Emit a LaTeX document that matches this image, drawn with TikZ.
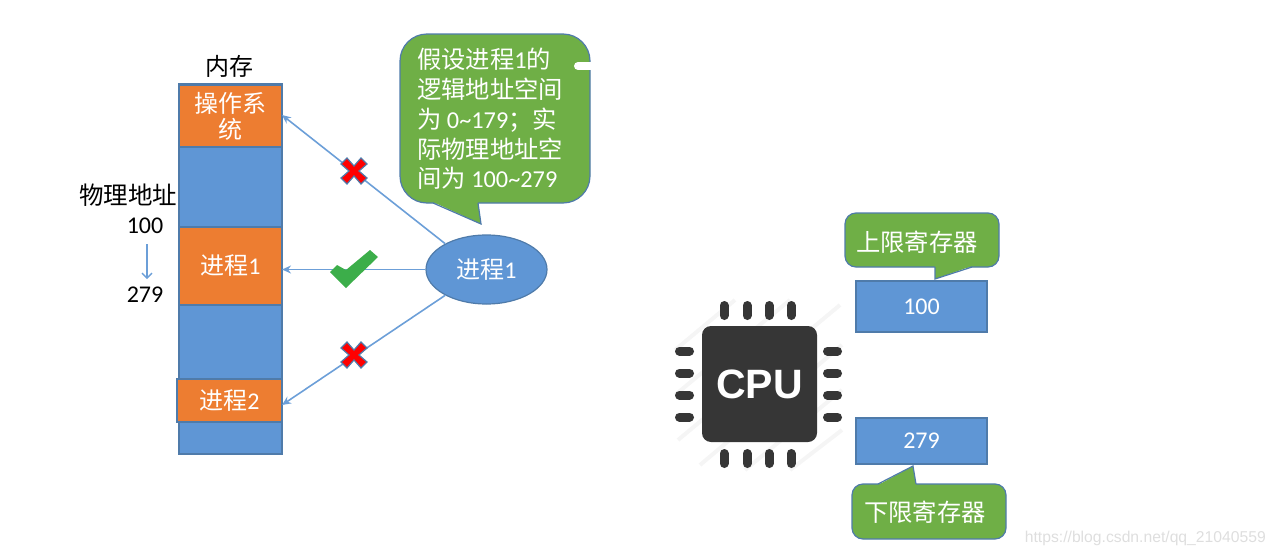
\documentclass[tikz,border=0pt]{standalone}
\usepackage{fontspec}
\setmainfont{Carlito}
\newfontfamily\cjk{Noto Sans CJK SC}
\newfontfamily\libsans{Liberation Sans}
\usetikzlibrary{shapes.geometric,arrows.meta}
\definecolor{blockblue}{HTML}{5F96D5}
\definecolor{edgeblue}{HTML}{4F7BAA}
\definecolor{arrowblue}{HTML}{6C9FD8}
\definecolor{blockorange}{HTML}{ED7D31}
\definecolor{calloutgreen}{HTML}{6FAF46}
\definecolor{checkgreen}{HTML}{3CAE4A}
\definecolor{chipgrey}{HTML}{363636}
\tikzset{
  x=1pt,y=-1pt,
  blockstyle/.style={draw=edgeblue,line width=1.3pt,inner sep=0pt,text=white,align=center,font=\fontsize{24}{27}\selectfont},
  blueblock/.style={blockstyle,fill=blockblue},
  orangeblock/.style={blockstyle,fill=blockorange},
  calloutshape/.style={draw=edgeblue,line width=1.2pt,fill=calloutgreen},
  tailfill/.style={fill=calloutgreen},
  tailedge/.style={draw=edgeblue,line width=1.2pt},
  callouttext/.style={inner sep=0pt,text=white,font=\fontsize{24.3}{29.75}\selectfont},
  plainlabel/.style={inner sep=0pt,text=black,font=\fontsize{24}{27}\selectfont},
  linkarrow/.style={draw=arrowblue,line width=1.6pt,-{Stealth[length=9pt,width=8pt]}},
  crossmark/.style={draw=edgeblue,line width=1.2pt,fill=red},
  pinmark/.style={draw=chipgrey,line width=9pt,line cap=round},
  stripe/.style={draw=black!4,line width=4pt},
}
\begin{document}
\begin{tikzpicture}
\useasboundingbox (0,0) rectangle (1275,557);

% memory column
\node[blueblock,minimum width=103pt,minimum height=370pt] (mem) at (230.5,269) {};
\node[orangeblock,minimum width=103pt,minimum height=62pt] (os) at (230.5,116) {{\cjk 操作系}\\[-1pt]{\cjk 统}};
\node[orangeblock,minimum width=103pt,minimum height=78pt] (procA) at (230.5,266) {{\cjk 进程}1};
\node[orangeblock,minimum width=105pt,minimum height=43pt] (procB) at (229.5,400.5) {{\cjk 进程}2};
\node[plainlabel] (memlabel) at (229,66) {\cjk 内存};
\node[plainlabel,font=\fontsize{24.5}{27}\selectfont] (physlabel) at (128,195) {\cjk 物理地址};
\node[plainlabel] (lowaddr) at (145,226) {100};
\node[plainlabel] (highaddr) at (145,295) {279};
\draw[draw=arrowblue,line width=1.3pt,-{Straight Barb[length=5pt,width=10pt]}] (lowaddr.south) ++(2,10) coordinate (downstart) -- (147,279) coordinate (downend);

% process ellipse
\node[ellipse,draw=edgeblue,line width=1.2pt,fill=blockblue,minimum width=121pt,minimum height=69pt,inner sep=0pt,text=white,font=\fontsize{24}{27}\selectfont] (pone) at (486.5,269.5) {{\cjk 进程}1};

% connectors
\coordinate (osend) at (282,115);
\coordinate (aend) at (282,269.5);
\coordinate (bend) at (282,405);
\draw[linkarrow] (pone.148) -- (osend);
\draw[linkarrow] (pone.west) -- (aend);
\draw[linkarrow] (pone.212) -- (bend);

% marks
\foreach \cx/\cy in {354/171,354/355}{
  \draw[crossmark,shift={(\cx,\cy)}] (0,-5) -- (7,-13) -- (13,-7) -- (5,0) -- (13,7) -- (7,13) -- (0,5) -- (-7,13) -- (-13,7) -- (-5,0) -- (-13,-7) -- (-7,-13) -- cycle;
}
\fill[checkgreen] (330,272) -- (346,288) -- (378,257) -- (370,250) -- (346,270) -- (337,265) -- cycle;

% big callout
\node[calloutshape,rounded corners=27pt,minimum width=190pt,minimum height=169pt,inner sep=0pt] (bubble) at (495,118.5) {};
\fill[tailfill] (433,202) -- (481,224) -- (478,202) -- cycle;
\draw[tailedge] (433,203) -- (481,224) -- (478,203);
\draw[draw=white,line width=8pt,line cap=round] (578,66) -- (590,66);
\draw[draw=white,line width=8pt] (584,66) -- (592,66);
\node[callouttext,anchor=west,align=left] (assume) at (417,119) {{\cjk 假设进程}1{\cjk 的}\\{\cjk 逻辑地址空间}\\{\cjk 为} 0\textasciitilde179{\cjk ；实}\\{\cjk 际物理地址空}\\{\cjk 间为} 100\textasciitilde279};

% CPU icon
\foreach \sx/\sy/\ex/\ey in {675/350/735/300, 675/395/790/300, 678/440/840/305, 700/465/842/345, 745/470/842/390, 790/470/842/430}{
  \draw[stripe] (\sx,\sy) -- (\ex,\ey);
}
\foreach \px in {724,747,769,791}{
  \draw[pinmark] (\px,305.5) -- (\px,315.5);
  \draw[pinmark] (\px,453.5) -- (\px,463.5);
}
\foreach \py in {351,373,395,417}{
  \draw[pinmark] (679.5,\py) -- (689.5,\py);
  \draw[pinmark] (827.5,\py) -- (837.5,\py);
}
\node[draw=none,fill=chipgrey,rounded corners=9pt,minimum width=115pt,minimum height=116pt,inner sep=0pt,text=white,font=\libsans\bfseries\fontsize{41}{41}\selectfont] (chip) at (759.5,384) {CPU};

% registers
\node[blueblock,minimum width=131pt,minimum height=51pt] (upper) at (921.5,306.5) {100};
\node[blueblock,minimum width=131pt,minimum height=46pt] (lower) at (921.5,441) {279};
\node[calloutshape,rounded corners=11pt,minimum width=154pt,minimum height=54pt,inner sep=0pt] (upperbubble) at (922,240) {};
\fill[tailfill] (972,266) -- (935,279) -- (935,266) -- cycle;
\draw[tailedge] (972,267) -- (935,279) -- (935,267);
\node[callouttext] (upperlabel) at (917,242) {\cjk 上限寄存器};
\node[calloutshape,rounded corners=11pt,minimum width=154pt,minimum height=55pt,inner sep=0pt] (lowerbubble) at (929,511.5) {};
\fill[tailfill] (878,485) -- (913,466) -- (916,485) -- cycle;
\draw[tailedge] (878,484) -- (913,466) -- (916,484);
\node[callouttext] (lowerlabel) at (925,512) {\cjk 下限寄存器};

% watermark
\node[inner sep=0pt,anchor=east,text=black!13,font=\libsans\fontsize{15.7}{16}\selectfont] (mark) at (1266,538) {https://blog.csdn.net/qq\_21040559};
\end{tikzpicture}
\end{document}
